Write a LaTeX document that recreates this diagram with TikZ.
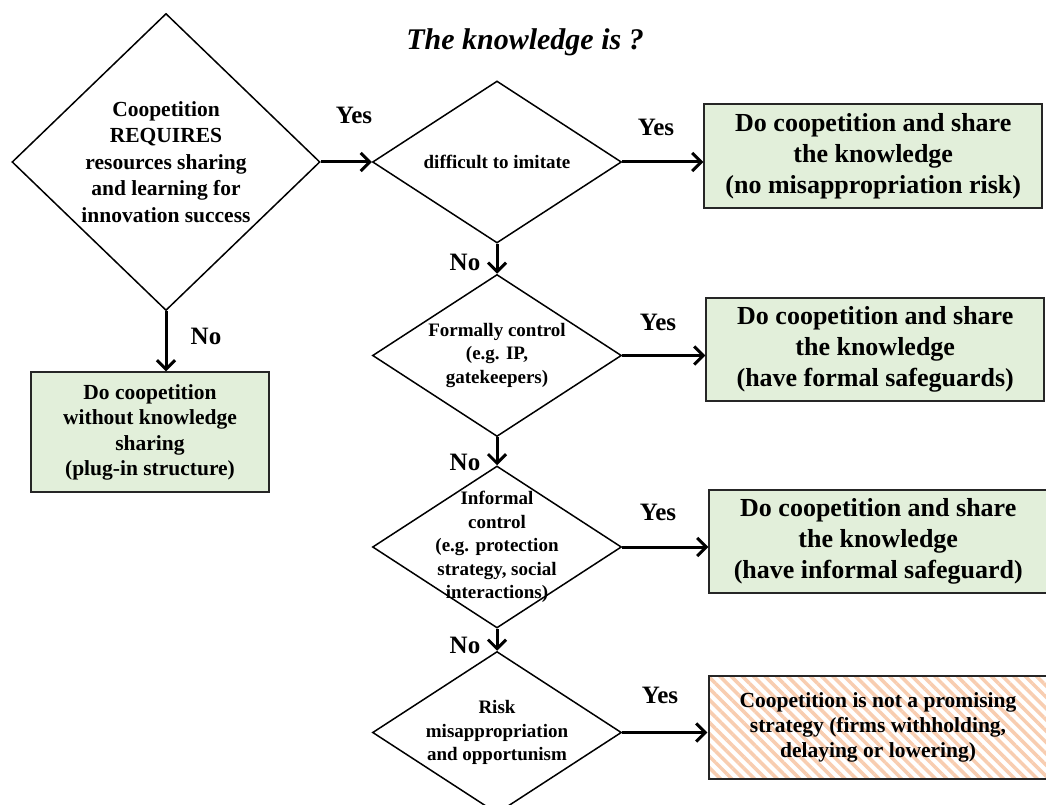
\documentclass[tikz,border=0pt]{standalone}
\usepackage{fontspec}
\setmainfont{Liberation Serif}
\usetikzlibrary{arrows.meta,shapes.geometric,positioning,patterns.meta}

\definecolor{boxgreen}{HTML}{E2EFDA}
\definecolor{hatchpeach}{HTML}{F8CDB0}

\begin{document}
\begin{tikzpicture}[
  x=1pt, y=-1pt,
  decision/.style={diamond, draw=black, line width=1.5pt, inner sep=0pt, minimum width=249pt, minimum height=162pt},
  dtext/.style={align=center, font=\fontsize{19}{23.5}\selectfont\bfseries},
  box/.style={rectangle, draw=black!85, line width=2pt, minimum width=338pt, minimum height=103pt, align=center},
  outcome/.style={box, fill=boxgreen, font=\fontsize{26}{31}\selectfont\bfseries},
  arrow/.style={-{Straight Barb[length=9pt,width=18pt]}, line width=3pt},
  answer/.style={font=\fontsize{25}{28}\selectfont\bfseries}
]
\useasboundingbox (0,0) rectangle (1046,805);

% Title
\node[font=\fontsize{30}{34}\selectfont\bfseries\itshape] (heading) at (525,42) {The knowledge is ?};

% Decisions
\node[decision, minimum width=308pt, minimum height=297pt,
  label={[dtext, font=\fontsize{21.5}{26.5}\selectfont\bfseries]center:{Coopetition\\REQUIRES\\resources sharing\\and learning for\\innovation success}}] (d1) at (166,162) {};
\node[decision, label={[dtext]center:{difficult to imitate}}] (d2) at (497,162) {};
\node[decision, below=30pt of d2, label={[dtext]center:{Formally control\\(e.g. IP,\\gatekeepers)}}] (d3) {};
\node[decision, below=28pt of d3, label={[dtext]center:{Informal\\control\\(e.g. protection\\strategy, social\\interactions)}}] (d4) {};
\node[decision, below=22pt of d4, label={[dtext]center:{Risk\\misappropriation\\and opportunism}}] (d5) {};

% Outcomes
\node[outcome, right=81pt of d2, yshift=6pt] (b1) {Do coopetition and share\\the knowledge\\(no misappropriation risk)};
\node[outcome, right=83pt of d3, yshift=6pt] (b2) {Do coopetition and share\\the knowledge\\(have formal safeguards)};
\node[outcome, right=86pt of d4, yshift=6pt] (b3) {Do coopetition and share\\the knowledge\\(have informal safeguard)};
\node[box, right=85pt of d5, yshift=5pt, preaction={fill=white},
  pattern={Lines[angle=-45,distance=8pt,line width=3.5pt]}, pattern color=hatchpeach,
  font=\fontsize{21.5}{25}\selectfont\bfseries] (b4) {Coopetition is not a promising\\strategy (firms withholding,\\delaying or lowering)};
\node[box, fill=boxgreen, minimum width=238pt, minimum height=120pt, below=60pt of d1, xshift=-16pt,
  font=\fontsize{21.5}{25.5}\selectfont\bfseries] (plugin) {Do coopetition\\without knowledge\\sharing\\(plug-in structure)};

% Connectors
\draw[arrow] (d1.east) -- (d2.west);
\draw[arrow] (d1.south) -- (d1.south |- plugin.north);
\draw[arrow] (d2.east) -- (d2.east -| b1.west);
\draw[arrow] (d3.east) -- (d3.east -| b2.west);
\draw[arrow] (d4.east) -- (d4.east -| b3.west);
\draw[arrow] (d5.east) -- (d5.east -| b4.west);
\draw[arrow] (d2) -- (d3);
\draw[arrow] (d3) -- (d4);
\draw[arrow] (d4) -- (d5);

% Answers
\node[answer] (yes1) at (354,115) {Yes};
\node[answer] (yes2) at (656,127) {Yes};
\node[answer] (yes3) at (658,322) {Yes};
\node[answer] (yes4) at (658,512) {Yes};
\node[answer] (yes5) at (660,695) {Yes};
\node[answer] (no1) at (206,336) {No};
\node[answer] (no2) at (465,262) {No};
\node[answer] (no3) at (465,462) {No};
\node[answer] (no4) at (465,645) {No};

\end{tikzpicture}
\end{document}
